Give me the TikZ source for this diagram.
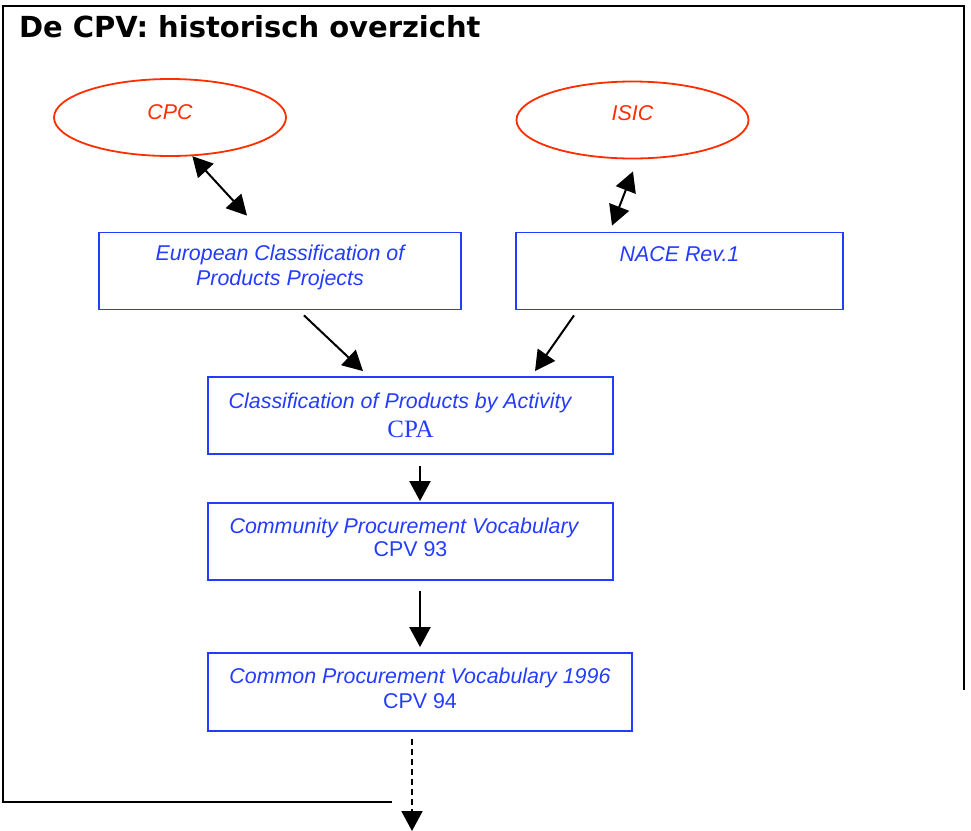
\documentclass[tikz,border=0pt]{standalone}
\usepackage{fontspec}
\setmainfont{Liberation Sans}
\newfontfamily\titlefont{DejaVu Sans}
\newfontfamily\cpafont{Liberation Serif}
\usetikzlibrary{shapes.geometric,calc,arrows.meta}
\definecolor{cpvblue}{RGB}{35,60,255}
\definecolor{cpvred}{RGB}{255,45,0}
\newcommand{\boxfont}{\fontsize{10.7}{12.5}\selectfont}

\begin{document}
\begin{tikzpicture}[x=0.5pt,y=-0.5pt,line width=1pt,
  fat/.tip={Triangle[length=10pt,width=10.5pt]},
  oval/.style={ellipse,draw=cpvred,text=cpvred,line width=0.9pt,inner sep=0pt,
    minimum width=116pt,minimum height=38.5pt,font=\boxfont\itshape},
  box/.style={rectangle,draw=cpvblue,text=cpvblue,line width=0.9pt,inner sep=0pt,
    align=center,minimum height=38.5pt,font=\boxfont\itshape},
  link/.style={-fat},
  both/.style={fat-fat}]
\useasboundingbox (0,0) rectangle (971,831);
% frame
\draw[line width=1.3pt] (392,802) -| (3,6) -| (964,690);
\node[anchor=base west,inner sep=0pt,font=\titlefont\bfseries\fontsize{14.5}{17}\selectfont] (title) at (18,37.5) {De CPV: historisch overzicht};
% sources
\node[oval,text depth=5.5pt] (cpc) at (170,117.5) {CPC};
\node[oval,text depth=7pt] (isic) at (632.5,120) {ISIC};
\node[box,minimum width=181pt,text depth=5.5pt] (ecp) at (280,271) {European Classification of\\Products Projects};
\node[box,minimum width=163.5pt,text depth=17pt] (nace) at (679.5,271) {NACE Rev.1};
% chain
\node[box,minimum width=202.5pt] (cpa) at (410.5,415.5) {Classification of Products by Activity\hspace*{10.5pt}\\[1.8pt]{\cpafont\upshape\fontsize{12.5}{14}\selectfont CPA}};
\node[box,minimum width=202.5pt,text depth=4pt] (cpv93) at (410.5,541.5) {Community Procurement Vocabulary\hspace*{6.5pt}\\[-1pt]\upshape CPV 93};
\node[box,minimum width=212pt,minimum height=39pt,text depth=4pt] (cpv94) at (420,692) {Common Procurement Vocabulary 1996\\\upshape CPV 94};
\coordinate (next) at (412,831);
% connectors
\draw[both] (cpc.-60) -- ($(ecp.north)+(-33,-16)$);
\draw[both] ($(isic.south)+(0.5,12)$) -- ($(nace.north)+(-67.5,-6)$);
\draw[link] ($(ecp.south)+(24,5)$) -- ($(cpa.north)+(-47.5,-5)$);
\draw[link] ($(nace.south)+(-105.5,5)$) -- ($(cpa.north)+(124.5,-5)$);
\draw[link] ($(cpa.south)+(9.5,11)$) -- ($(cpv93.north)+(9.5,-1)$);
\draw[link] ($(cpv93.south)+(9.5,10)$) -- ($(cpv94.north)+(0,-5)$);
\draw[link,dash pattern=on 3pt off 2pt] ($(cpv94.south)+(-8,7)$) -- (next);
\end{tikzpicture}
\end{document}
